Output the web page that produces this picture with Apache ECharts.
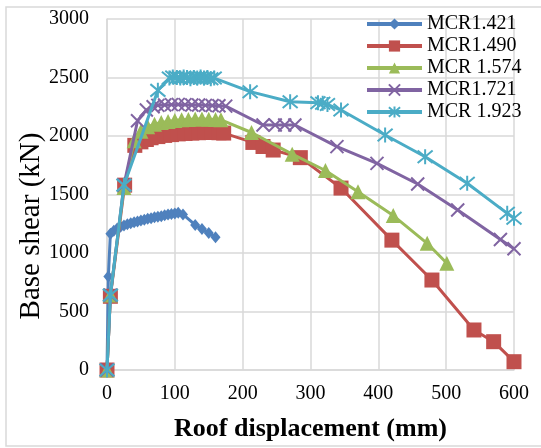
<!DOCTYPE html>
<html><head><meta charset="utf-8">
<script src="https://cdn.jsdelivr.net/npm/echarts@6/dist/echarts.min.js"></script>
<style>html,body{margin:0;padding:0;background:#fff}#c{width:541px;height:448px}</style>
</head><body><div id="c"></div>
<script>
var seriesNames = ['MCR1.421','MCR1.490','MCR 1.574','MCR1.721','MCR 1.923'];
var xTicks = [0,100,200,300,400,500,600];
var yTicks = [0,500,1000,1500,2000,2500,3000];

var mcr1421 = [[0,0],[2,800],[5,1165],[10,1190],[15,1210],[20,1225],[25,1235],[30,1245],[35,1255],[40,1262],[45,1270],[50,1278],[55,1285],[60,1292],[65,1298],[70,1305],[75,1310],[80,1315],[85,1322],[90,1328],[95,1333],[100,1338],[105,1343],[112,1330],[130,1240],[140,1205],[150,1170],[160,1135]];
var mcr1490 = [[0,0],[5,630],[26,1580],[41,1920],[50,1950],[58,1970],[65,1985],[75,1995],[85,2005],[95,2012],[105,2018],[115,2022],[125,2025],[135,2028],[145,2030],[155,2030],[165,2028],[172,2025],[215,1945],[230,1910],[245,1880],[285,1815],[345,1555],[420,1110],[479,769],[541,342],[570,242],[600,71]];
var mcr1574 = [[0,0],[5,640],[25,1560],[40,1960],[50,2040],[60,2080],[70,2100],[80,2115],[90,2125],[100,2132],[110,2138],[120,2142],[130,2145],[140,2145],[150,2143],[160,2140],[168,2138],[213,2030],[273,1845],[322,1705],[370,1524],[422,1320],[472,1083],[501,912]];
var mcr1721 = [[0,0],[5,640],[25,1580],[45,2130],[58,2222],[68,2250],[75,2262],[85,2265],[95,2268],[105,2270],[115,2268],[125,2265],[135,2265],[145,2262],[155,2260],[165,2258],[175,2255],[230,2094],[248,2094],[262,2094],[277,2094],[339,1909],[398,1766],[458,1590],[517,1368],[580,1115],[600,1037]];
var mcr1923 = [[0,0],[5,640],[25,1580],[75,2390],[92,2495],[97,2505],[103,2500],[108,2495],[113,2505],[118,2500],[123,2490],[128,2500],[133,2495],[138,2505],[143,2495],[148,2500],[153,2490],[158,2495],[211,2379],[270,2293],[311,2285],[318,2280],[325,2270],[345,2222],[410,2009],[469,1823],[531,1596],[590,1339],[600,1297]];

var allData = [mcr1421, mcr1490, mcr1574, mcr1721, mcr1923];
var colors = ['#4F81BD','#C0504D','#9BBB59','#8064A2','#4BACC6'];
var symbols = ['diamond','rect','triangle','path://M0,0L10,10M10,0L0,10','path://M0,0L10,10M10,0L0,10M5,-1L5,11'];
var sizes = [[10,12],15,15,13,15];
var FONT = "'Liberation Serif','Times New Roman',serif";

var chart = echarts.init(document.getElementById('c'), null, {renderer:'canvas'});
var series = allData.map(function(d,i){
  var stroked = i >= 3;
  return {
    name: seriesNames[i], type:'line', data:d,
    symbol: symbols[i], symbolSize: sizes[i], showSymbol:true,
    lineStyle:{color:colors[i], width:3},
    itemStyle: stroked ? {color:colors[i], borderColor:colors[i], borderWidth:2} : {color:colors[i], borderWidth:0},
    animation:false, z: 2+i
  };
});
chart.setOption({
  animation:false,
  backgroundColor:'#fff',
  grid:{left:107, top:19, width:407, height:351, containLabel:false},
  xAxis:{type:'value', min:0, max:600, interval:100,
    name:'Roof displacement (mm)', nameLocation:'middle', nameGap:46,
    nameTextStyle:{fontFamily:FONT, fontSize:26, fontWeight:'bold', color:'#000'},
    axisLine:{show:true, lineStyle:{color:'#d9d9d9', width:1.5}},
    axisTick:{show:false},
    axisLabel:{fontFamily:FONT, fontSize:20, color:'#000', margin:14,
      formatter:function(v){return xTicks.indexOf(v)>=0?String(v):'';}},
    splitLine:{show:true, lineStyle:{color:'#d9d9d9', width:1.5}}
  },
  yAxis:{type:'value', min:0, max:3000, interval:500,
    axisLine:{show:true, lineStyle:{color:'#d9d9d9', width:1.5}},
    axisTick:{show:false},
    axisLabel:{fontFamily:FONT, fontSize:20, color:'#000', margin:18,
      formatter:function(v){return yTicks.indexOf(v)>=0?String(v):'';}},
    splitLine:{show:true, lineStyle:{color:'#d9d9d9', width:1.5}}
  },
  legend:{orient:'vertical', left:360, top:9, itemWidth:55, itemHeight:14, itemGap:2,
    lineStyle:{width:4},
    textStyle:{fontFamily:FONT, fontSize:20, color:'#000', lineHeight:20},
    data:seriesNames},
  graphic:[
    {type:'rect', shape:{x:6, y:7, width:545, height:439}, style:{fill:'none', stroke:'#d9d9d9', lineWidth:1.5}, silent:true, z:-10},
    {type:'text', x:31, y:226, rotation:Math.PI/2,
      style:{text:'Base shear (kN)', font:"29px 'Liberation Serif','Times New Roman',serif", fill:'#000', textAlign:'center', textVerticalAlign:'middle'}}
  ],
  series: series
});
</script>
</body></html>
